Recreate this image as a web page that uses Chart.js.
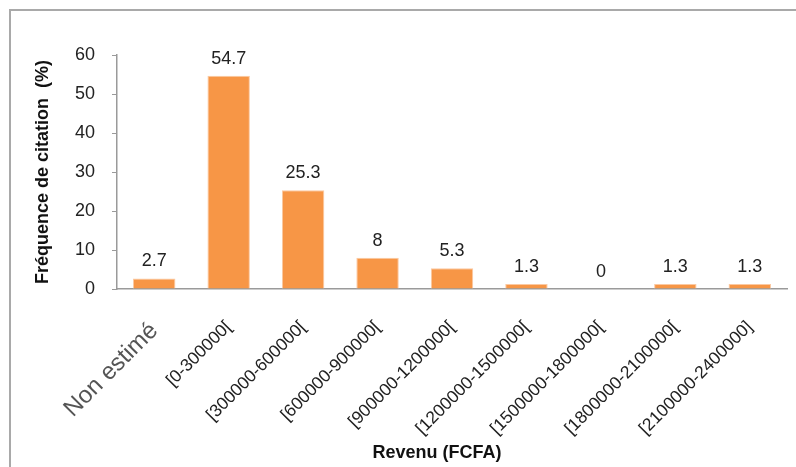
<!DOCTYPE html>
<html>
<head>
<meta charset="utf-8">
<script src="https://cdn.jsdelivr.net/npm/chart.js@4/dist/chart.umd.min.js"></script>
<style>
  html, body { margin: 0; padding: 0; background: #fff; }
  #wrap { position: relative; width: 796px; height: 467px; overflow: hidden; }
  #frame { position: absolute; left: 9px; top: 9px; width: 900px; height: 700px;
           border: 2px solid #a9a9a9; box-sizing: border-box; }
  canvas { position: absolute; left: 0; top: 0; }
</style>
</head>
<body>
<div id="wrap">
  <div id="frame"></div>
  <canvas id="chart" width="796" height="467"></canvas>
</div>
<script>
// Income brackets (FCFA) and share of respondents citing each (%)
const categories = [
  'Non estimé',
  '[0-300000[',
  '[300000-600000[',
  '[600000-900000[',
  '[900000-1200000[',
  '[1200000-1500000[',
  '[1500000-1800000[',
  '[1800000-2100000[',
  '[2100000-2400000]'
];
const frequencies = [2.7, 54.7, 25.3, 8, 5.3, 1.3, 0, 1.3, 1.3];
const valueLabels = ['2.7', '54.7', '25.3', '8', '5.3', '1.3', '0', '1.3', '1.3'];
const yTicks = [0, 10, 20, 30, 40, 50, 60];
const xTitle = 'Revenu (FCFA)';
const yTitle = 'Fréquence de citation  (%)';

const FONT = '"Liberation Sans", Arial, Helvetica, sans-serif';

// Writes each bar's value just above it, and the category axis title
const annotatePlugin = {
  id: 'annotate',
  afterDatasetsDraw(chart) {
    const ctx = chart.ctx;
    const meta = chart.getDatasetMeta(0);
    ctx.save();
    ctx.font = '18px ' + FONT;
    ctx.fillStyle = '#222';
    ctx.textAlign = 'center';
    ctx.textBaseline = 'middle';
    meta.data.forEach((bar, i) => {
      ctx.fillText(valueLabels[i], bar.x, bar.y - 17);
    });
    const area = chart.chartArea;
    ctx.font = 'bold 18px ' + FONT;
    ctx.fillStyle = '#111';
    ctx.fillText(xTitle, (area.left + area.right) / 2 - 15, chart.height - 14);
    ctx.restore();
  }
};

new Chart(document.getElementById('chart'), {
  type: 'bar',
  data: {
    labels: categories,
    datasets: [{
      data: frequencies,
      backgroundColor: '#F79646',
      borderColor: '#FBC9A2',
      borderWidth: 1,
      barPercentage: 1,
      categoryPercentage: 0.57
    }]
  },
  options: {
    responsive: false,
    animation: false,
    devicePixelRatio: 1,
    layout: { padding: { left: 28, right: 9, top: 55, bottom: 0 } },
    plugins: { legend: { display: false }, tooltip: { enabled: false } },
    scales: {
      x: {
        grid: { display: false, drawTicks: false },
        border: { display: true, color: '#9a9a9a', width: 1.5 },
        ticks: {
          minRotation: 45,
          maxRotation: 45,
          autoSkip: false,
          padding: 28,
          color: ctx => ctx.index === 0 ? '#555' : '#222',
          font: ctx => ctx.index === 0 ? { family: FONT, size: 24 } : { family: FONT, size: 17.5 }
        },
        afterFit(scale) { scale.height = 178; }
      },
      y: {
        min: 0,
        max: 60,
        afterBuildTicks(scale) { scale.ticks = yTicks.map(v => ({ value: v })); },
        grid: { display: true, drawOnChartArea: false, drawTicks: true, tickLength: 5, color: '#9a9a9a' },
        border: { display: true, color: '#9a9a9a', width: 1.5 },
        ticks: {
          padding: 17,
          color: '#222',
          font: { family: FONT, size: 18 }
        },
        title: {
          display: true,
          text: yTitle,
          color: '#111',
          font: { family: FONT, size: 18, weight: 'bold' },
          padding: { top: 4, bottom: 4 }
        },
        afterFit(scale) { scale.width = 89; }
      }
    }
  },
  plugins: [annotatePlugin]
});
</script>
</body>
</html>
